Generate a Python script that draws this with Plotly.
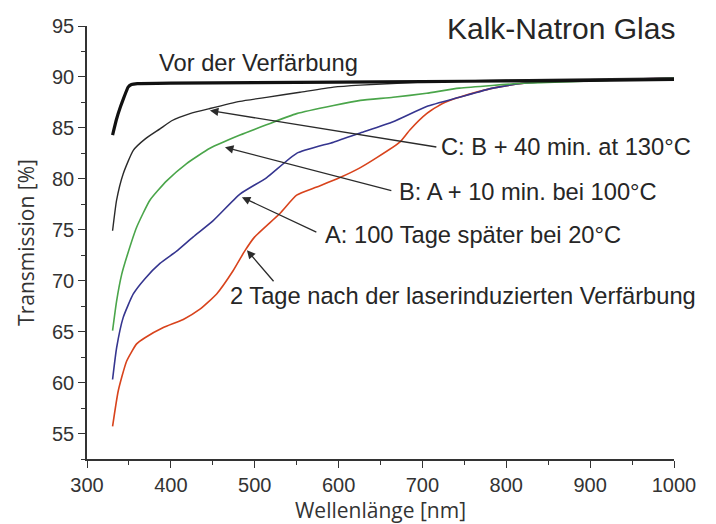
import plotly.graph_objects as go

# ---- data ----
vor_x = [330.5, 335, 340, 345, 349, 353, 360, 400, 500, 600, 700, 800, 900, 1000]
vor_y = [84.3, 85.8, 87.1, 88.2, 89.0, 89.25, 89.35, 89.4, 89.45, 89.5, 89.55, 89.6, 89.65, 89.75]

c_x = [330.5, 335.3, 343.2, 355.2, 369.1, 387, 401, 422.8, 446.6, 482.4, 514, 554, 594, 626, 700, 800, 900, 1000]
c_y = [74.9, 77.9, 80.5, 82.8, 83.9, 84.9, 85.7, 86.4, 86.9, 87.6, 88.0, 88.5, 89.0, 89.2, 89.5, 89.7, 89.8, 89.9]

b_x = [330.5, 335.3, 341.3, 348, 359.2, 375, 395, 418.8, 446.6, 482.4, 514, 550, 594, 626, 665, 705, 744, 824, 900, 1000]
b_y = [65.1, 68.0, 70.6, 72.5, 75.25, 77.9, 79.8, 81.5, 83.0, 84.3, 85.3, 86.4, 87.2, 87.7, 88.0, 88.4, 88.9, 89.4, 89.6, 89.9]

a_x = [330.5, 335.3, 343.2, 355.2, 369.1, 387, 406.9, 426.7, 450.5, 482.4, 514, 550, 594, 626, 665, 705, 744, 784, 824, 900, 1000]
a_y = [60.3, 63.4, 66.4, 68.7, 70.2, 71.7, 72.9, 74.3, 75.9, 78.5, 80.1, 82.5, 83.6, 84.5, 85.6, 87.1, 88.0, 88.9, 89.4, 89.7, 89.9]

r_x = [330.5, 337.3, 347.2, 359.2, 369.1, 391, 414.8, 434.7, 454.6, 474.4, 488, 500, 530, 550, 574, 601, 626, 646, 673, 685, 705, 724, 744, 784, 824, 864, 1000]
r_y = [55.7, 59.2, 62.1, 63.8, 64.4, 65.4, 66.2, 67.2, 68.7, 71.0, 72.9, 74.3, 76.6, 78.4, 79.2, 80.1, 81.1, 82.1, 83.6, 84.8, 86.4, 87.4, 88.0, 88.9, 89.4, 89.6, 89.9]

x_ticks = [300, 400, 500, 600, 700, 800, 900, 1000]
y_ticks = [55, 60, 65, 70, 75, 80, 85, 90, 95]

# annotation anchors (data coordinates)
labels = [
    # text, text_x, text_y, arrow_head_x, arrow_head_y, arrow_tail_x, arrow_tail_y
    ("C: B + 40 min. at 130°C", 720, 83.1, 446.6, 86.7, 718.4, 83.1),
    ("B: A + 10 min. bei 100°C", 669.5, 78.7, 464.5, 83.1, 664.7, 78.8),
    ("A: 100 Tage später bei 20°C", 581, 74.5, 484.7, 78.2, 575.3, 74.7),
    ("2 Tage nach der laserinduzierten Verfärbung", 468, 68.5, 490.7, 73.0, 524, 69.8),
]

fig = go.Figure()
line_shape = dict(shape="spline", smoothing=0.5)
fig.add_trace(go.Scatter(x=r_x, y=r_y, mode="lines", line=dict(color="#d8431c", width=1.6, **line_shape)))
fig.add_trace(go.Scatter(x=a_x, y=a_y, mode="lines", line=dict(color="#35358f", width=1.6, **line_shape)))
fig.add_trace(go.Scatter(x=b_x, y=b_y, mode="lines", line=dict(color="#4aa54a", width=1.6, **line_shape)))
fig.add_trace(go.Scatter(x=c_x, y=c_y, mode="lines", line=dict(color="#2a2a2a", width=1.4, **line_shape)))
fig.add_trace(go.Scatter(x=vor_x, y=vor_y, mode="lines", line=dict(color="#111111", width=3.2, shape="spline", smoothing=0.3)))

ann_font = dict(family="Liberation Sans, Arial, sans-serif", size=23.7, color="#262626")
annotations = []
for text, tx, ty, hx, hy, ax, ay in labels:
    annotations.append(dict(x=hx, y=hy, ax=ax, ay=ay, xref="x", yref="y", axref="x", ayref="y",
                            text="", showarrow=True, arrowhead=2, arrowsize=1.3, arrowwidth=1.3,
                            arrowcolor="#2b2b2b"))
    annotations.append(dict(x=tx, y=ty, xref="x", yref="y", text=text, showarrow=False,
                            xanchor="left", yanchor="middle", font=ann_font))
annotations.append(dict(x=383, y=91.4, xref="x", yref="y", text="Vor der Verfärbung", showarrow=False,
                        xanchor="left", yanchor="middle", font=ann_font))
annotations.append(dict(x=1.005, y=0.995, xref="paper", yref="paper", text="Kalk-Natron Glas", showarrow=False,
                        xanchor="right", yanchor="middle",
                        font=dict(family="Liberation Sans, Arial, sans-serif", size=30, color="#262626")))

axis_common = dict(showline=True, linecolor="#333333", linewidth=1.5, ticks="outside", ticklen=7,
                   tickwidth=1.3, tickcolor="#333333", showgrid=False, zeroline=False,
                   tickfont=dict(family="Liberation Sans, Arial, sans-serif", size=20, color="#333333"),
                   automargin=False)

fig.update_layout(
    width=716, height=524,
    margin=dict(l=87, r=42, t=26, b=65),
    paper_bgcolor="white", plot_bgcolor="white",
    showlegend=False,
    annotations=annotations,
    xaxis=dict(range=[300, 1000], tickvals=x_ticks,
               minor=dict(dtick=50, ticks="outside", ticklen=4, tickcolor="#333333", tickwidth=1.2),
               title=dict(text="Wellenlänge [nm]", standoff=8,
                          font=dict(family="Open Sans, sans-serif", size=21, color="#333333")),
               **axis_common),
    yaxis=dict(range=[52.5, 95], tickvals=y_ticks,
               minor=dict(dtick=2.5, ticks="outside", ticklen=4, tickcolor="#333333", tickwidth=1.2),
               title=dict(text="Transmission [%]", standoff=12,
                          font=dict(family="Open Sans, sans-serif", size=21, color="#333333")),
               **axis_common),
)

fig.write_html("out.html", config={"displayModeBar": False},
               post_script="document.body.style.margin='0';document.body.style.overflow='hidden';")
